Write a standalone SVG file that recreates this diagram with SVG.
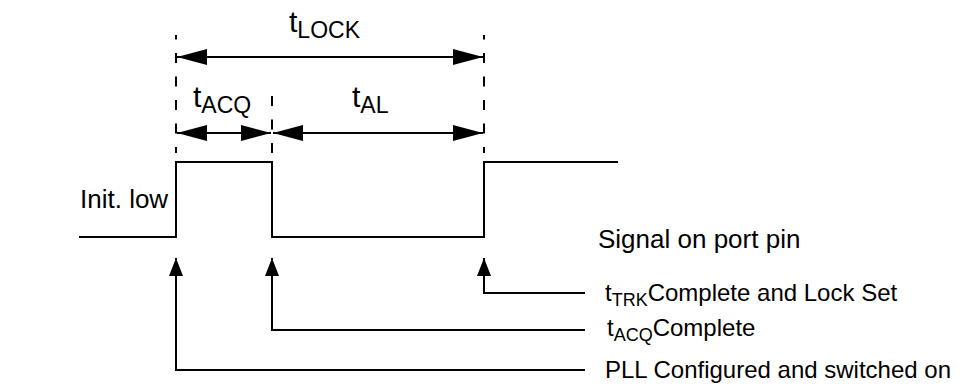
<svg xmlns="http://www.w3.org/2000/svg" width="980" height="386" viewBox="0 0 980 386">
<style>
.ln{stroke:#000;stroke-width:2;fill:none}
.dash{stroke:#000;stroke-width:2;fill:none;stroke-dasharray:10 13.5;stroke-dashoffset:5.5}
.t{font-family:"Liberation Sans",Arial,sans-serif;fill:#000}
.big{font-size:30px}
.lab{font-size:24px}
.lab2{font-size:26px}
.sub{font-size:23px}
.ssub{font-size:18px}
</style>
<defs>
<marker id="ah" markerUnits="userSpaceOnUse" markerWidth="30" markerHeight="16" refX="30" refY="8" orient="auto-start-reverse"><path d="M0,0 L30,8 L0,16 z" fill="#000"/></marker>
<marker id="va" markerUnits="userSpaceOnUse" markerWidth="18" markerHeight="14" refX="18" refY="7" orient="auto"><path d="M0,0 L18,7 L0,14 z" fill="#000"/></marker>
</defs>
<g id="guides">
<line class="dash" x1="176" y1="35" x2="176" y2="153"/>
<line class="dash" x1="484" y1="35" x2="484" y2="153"/>
<line class="dash" x1="272" y1="96" x2="272" y2="153" style="stroke-dasharray:10 13.5;stroke-dashoffset:0"/>
</g>
<g id="waveform">
<path class="ln" d="M79,237 H176 V162 H272 V237 H484 V162 H618"/>
</g>
<g id="connectors">
<line class="ln" x1="177" y1="57" x2="483" y2="57" marker-start="url(#ah)" marker-end="url(#ah)"/>
<line class="ln" x1="177" y1="133" x2="271" y2="133" marker-start="url(#ah)" marker-end="url(#ah)"/>
<line class="ln" x1="273" y1="133" x2="483" y2="133" marker-start="url(#ah)" marker-end="url(#ah)"/>
<path class="ln" d="M585,370 H176 V258" marker-end="url(#va)"/>
<path class="ln" d="M585,330 H272 V258" marker-end="url(#va)"/>
<path class="ln" d="M585,293 H484 V258" marker-end="url(#va)"/>
</g>
<g id="labels">
<text class="t big" x="289" y="32">t<tspan class="sub" dy="6">LOCK</tspan></text>
<text class="t big" x="193" y="107">t<tspan class="sub" dy="6">ACQ</tspan></text>
<text class="t big" x="352" y="107">t<tspan class="sub" dy="6">AL</tspan></text>
<text class="t lab2" x="80" y="208">Init. low</text>
<text class="t lab2" x="598" y="248">Signal on port pin</text>
<text class="t lab" x="605" y="301">t<tspan class="ssub" dy="5">TRK</tspan><tspan dy="-5">Complete and Lock Set</tspan></text>
<text class="t lab" x="607" y="336">t<tspan class="ssub" dy="5">ACQ</tspan><tspan dy="-5">Complete</tspan></text>
<text class="t lab" x="605" y="378">PLL Configured and switched on</text>
</g>
</svg>
